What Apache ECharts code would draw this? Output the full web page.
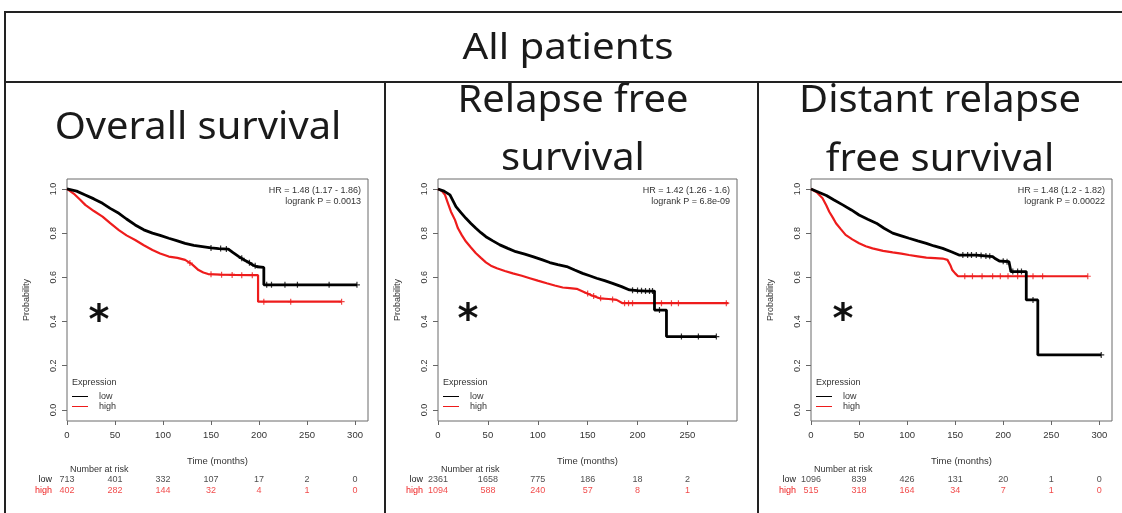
<!DOCTYPE html>
<html>
<head>
<meta charset="utf-8">
<script src="https://cdn.jsdelivr.net/npm/echarts@6/dist/echarts.min.js"></script>
<style>
  html, body { margin: 0; padding: 0; background: #fff; }
  #chart { width: 1122px; height: 513px; }
</style>
</head>
<body>
<div id="chart"></div>
<script>
// ---- Kaplan-Meier curves: [time (months), survival probability] ----
const osLow = [[0,1.0],[10,0.99],[19,0.973],[28,0.955],[37,0.935],[45,0.912],[54,0.89],[62,0.864],[71,0.837],[80,0.815],[89,0.80],[97,0.79],[106,0.777],[115,0.765],[123,0.754],[132,0.745],[141,0.739],[150,0.733],[158,0.73],[168,0.728],[173,0.712],[179,0.694],[184,0.68],[189,0.668],[194,0.655],[198,0.648],[205,0.645],[205,0.566],[302,0.566]];
const osHigh = [[0,1.0],[8,0.975],[14,0.95],[19,0.928],[28,0.9],[37,0.875],[45,0.845],[54,0.814],[62,0.79],[71,0.769],[80,0.745],[89,0.724],[97,0.708],[106,0.694],[115,0.688],[123,0.679],[130,0.66],[137,0.633],[142,0.622],[147,0.615],[160,0.612],[175,0.611],[192,0.61],[199,0.61],[199,0.49],[286,0.49]];
const osLowCensor = [[150,0.733],[160,0.73],[166,0.728],[182,0.686],[190,0.666],[196,0.652],[208,0.566],[213,0.566],[227,0.566],[240,0.566],[273,0.566],[302,0.566]];
const osHighCensor = [[128,0.665],[150,0.614],[161,0.612],[172,0.611],[182,0.61],[193,0.61],[205,0.49],[233,0.49],[286,0.49]];

const rfsLow = [[0,1.0],[6,0.99],[12,0.973],[18,0.92],[23,0.893],[28,0.867],[33,0.844],[38,0.822],[43,0.802],[48,0.784],[55,0.765],[62,0.747],[70,0.731],[78,0.716],[87,0.705],[95,0.694],[104,0.68],[112,0.667],[120,0.658],[129,0.649],[137,0.633],[145,0.618],[152,0.607],[159,0.596],[167,0.585],[175,0.573],[184,0.558],[192,0.543],[200,0.54],[209,0.538],[217,0.538],[217,0.452],[229,0.452],[229,0.332],[279,0.332]];
const rfsHigh = [[0,1.0],[4,0.99],[7,0.973],[10,0.935],[13,0.897],[17,0.86],[20,0.822],[24,0.79],[28,0.762],[33,0.735],[38,0.709],[43,0.688],[48,0.668],[53,0.653],[59,0.641],[67,0.629],[75,0.618],[84,0.607],[92,0.596],[100,0.585],[109,0.573],[117,0.563],[125,0.554],[132,0.551],[139,0.548],[144,0.538],[149,0.528],[155,0.517],[162,0.505],[171,0.502],[179,0.498],[185,0.483],[291,0.483]];
const rfsLowCensor = [[195,0.542],[200,0.54],[204,0.539],[208,0.538],[212,0.538],[215,0.538],[222,0.452],[244,0.332],[261,0.332],[279,0.332]];
const rfsHighCensor = [[150,0.527],[156,0.516],[163,0.505],[175,0.5],[187,0.483],[191,0.483],[195,0.483],[224,0.483],[234,0.483],[241,0.483],[289,0.483]];

const dmfsLow = [[0,1.0],[8,0.985],[16,0.97],[24,0.95],[33,0.928],[42,0.905],[50,0.882],[59,0.863],[68,0.845],[76,0.822],[85,0.80],[94,0.788],[102,0.777],[111,0.765],[120,0.754],[128,0.742],[137,0.731],[146,0.716],[154,0.701],[163,0.701],[172,0.701],[189,0.694],[192,0.684],[196,0.674],[206,0.671],[208,0.671],[208,0.626],[224,0.626],[224,0.498],[236,0.498],[236,0.249],[302,0.249]];
const dmfsHigh = [[0,1.0],[6,0.985],[12,0.958],[16,0.925],[19,0.897],[23,0.868],[26,0.845],[31,0.818],[36,0.792],[43,0.772],[50,0.754],[57,0.741],[64,0.731],[75,0.72],[85,0.713],[94,0.707],[102,0.701],[111,0.695],[120,0.689],[129,0.687],[137,0.685],[142,0.679],[145,0.655],[147,0.633],[150,0.618],[153,0.605],[288,0.605]];
const dmfsLowCensor = [[158,0.701],[163,0.701],[167,0.701],[172,0.701],[177,0.699],[182,0.697],[186,0.695],[200,0.673],[204,0.671],[210,0.626],[215,0.626],[219,0.626],[231,0.498],[302,0.249]];
const dmfsHighCensor = [[160,0.605],[168,0.605],[178,0.605],[189,0.605],[197,0.605],[205,0.605],[215,0.605],[231,0.605],[241,0.605],[288,0.605]];

// ---- Axis ticks ----
const timeTicks = [0, 50, 100, 150, 200, 250, 300];
const timeTicksRfs = [0, 50, 100, 150, 200, 250];
const probTicks = [0, 0.2, 0.4, 0.6, 0.8, 1.0];

// ---- Number at risk ----
const osRiskLow = [713, 401, 332, 107, 17, 2, 0];
const osRiskHigh = [402, 282, 144, 32, 4, 1, 0];
const rfsRiskLow = [2361, 1658, 775, 186, 18, 2];
const rfsRiskHigh = [1094, 588, 240, 57, 8, 1];
const dmfsRiskLow = [1096, 839, 426, 131, 20, 1, 0];
const dmfsRiskHigh = [515, 318, 164, 34, 7, 1, 0];

// ---- Text ----
const mainTitle = 'All patients';
const panelTitles = [['Overall survival'], ['Relapse free', 'survival'], ['Distant relapse', 'free survival']];
const hrText = [
  ['HR = 1.48 (1.17 - 1.86)', 'logrank P = 0.0013'],
  ['HR = 1.42 (1.26 - 1.6)', 'logrank P = 6.8e-09'],
  ['HR = 1.48 (1.2 - 1.82)', 'logrank P = 0.00022']
];

const RED = '#ee1c1c';
const BLACK = '#000000';
const TXT = '#333333';
const SMALL_FONT = 'Liberation Sans';

const panels = [
  { low: osLow, high: osHigh, lowC: osLowCensor, highC: osHighCensor, ticks: timeTicks,
    riskLow: osRiskLow, riskHigh: osRiskHigh, hr: hrText[0], title: panelTitles[0],
    left: 67, width: 301, xMax: 313.5, titleX: 198, titleY: [128], star: [99, 323] },
  { low: rfsLow, high: rfsHigh, lowC: rfsLowCensor, highC: rfsHighCensor, ticks: timeTicksRfs,
    riskLow: rfsRiskLow, riskHigh: rfsRiskHigh, hr: hrText[1], title: panelTitles[1],
    left: 438, width: 299, xMax: 299.7, titleX: 573, titleY: [101, 159], star: [468, 322] },
  { low: dmfsLow, high: dmfsHigh, lowC: dmfsLowCensor, highC: dmfsHighCensor, ticks: timeTicks,
    riskLow: dmfsRiskLow, riskHigh: dmfsRiskHigh, hr: hrText[2], title: panelTitles[2],
    left: 811, width: 301, xMax: 313.2, titleX: 940, titleY: [101, 160], star: [843, 322] }
];

const PLOT_TOP = 179, PLOT_H = 242, RISK_TOP = 474, RISK_H = 22;
const PLUS = 'path://M4,0H6V4H10V6H6V10H4V6H0V4H4Z';

const grid = [], xAxis = [], yAxis = [], series = [], legend = [], graphic = [];

panels.forEach((p, i) => {
  const gPlot = grid.length;
  grid.push({ left: p.left, top: PLOT_TOP, width: p.width, height: PLOT_H,
    show: true, borderColor: '#6a6a6a', borderWidth: 1, backgroundColor: 'transparent' });
  const gRisk = grid.length;
  grid.push({ left: p.left, top: RISK_TOP, width: p.width, height: RISK_H });

  xAxis.push({
    gridIndex: gPlot, type: 'value', min: 0, max: p.xMax, position: 'bottom',
    name: 'Time (months)', nameLocation: 'middle', nameGap: 35,
    nameTextStyle: { fontFamily: SMALL_FONT, fontSize: 9.5, color: TXT },
    axisLine: { show: false, onZero: false },
    axisTick: { show: true, length: 4, customValues: p.ticks, lineStyle: { color: '#666' } },
    axisLabel: { customValues: p.ticks, margin: 9, fontFamily: SMALL_FONT, fontSize: 9.5, color: TXT },
    splitLine: { show: false }
  });
  yAxis.push({
    gridIndex: gPlot, type: 'value', min: -0.05, max: 1.045,
    name: 'Probability', nameLocation: 'middle', nameGap: 36, nameRotate: 90,
    nameTextStyle: { fontFamily: SMALL_FONT, fontSize: 9, color: TXT },
    axisLine: { show: false, onZero: false },
    axisTick: { show: true, length: 5, customValues: probTicks, lineStyle: { color: '#666' } },
    axisLabel: { customValues: probTicks, rotate: 90, margin: 9, fontFamily: SMALL_FONT, fontSize: 9, color: TXT,
      formatter: v => v.toFixed(1) },
    splitLine: { show: false }
  });

  const xPlot = xAxis.length - 1, yPlot = yAxis.length - 1;

  xAxis.push({ gridIndex: gRisk, type: 'value', min: 0, max: p.xMax, show: false });
  yAxis.push({
    gridIndex: gRisk, type: 'category', data: ['high', 'low'],
    axisLine: { show: false }, axisTick: { show: false },
    axisLabel: { interval: 0, margin: 15, fontFamily: SMALL_FONT, fontSize: 9,
      color: (v) => v === 'high' ? RED : '#222' }
  });
  const xRisk = xAxis.length - 1, yRisk = yAxis.length - 1;

  series.push({ name: 'low', type: 'line', xAxisIndex: xPlot, yAxisIndex: yPlot, data: p.low,
    showSymbol: false, color: BLACK, itemStyle: { color: BLACK }, lineStyle: { width: 2.8, color: BLACK }, z: 3 });
  series.push({ name: 'high', type: 'line', xAxisIndex: xPlot, yAxisIndex: yPlot, data: p.high,
    showSymbol: false, color: RED, itemStyle: { color: RED }, lineStyle: { width: 2.2, color: RED }, z: 2 });
  series.push({ name: 'low censored', type: 'scatter', xAxisIndex: xPlot, yAxisIndex: yPlot, data: p.lowC,
    symbol: PLUS, symbolSize: 6, itemStyle: { color: BLACK }, z: 4 });
  series.push({ name: 'high censored', type: 'scatter', xAxisIndex: xPlot, yAxisIndex: yPlot, data: p.highC,
    symbol: PLUS, symbolSize: 6, itemStyle: { color: RED }, z: 4 });

  const riskLabel = (color) => ({ show: true, position: 'inside', formatter: q => String(q.value[2]),
    fontFamily: SMALL_FONT, fontSize: 9, color });
  series.push({ name: 'risk low', type: 'scatter', xAxisIndex: xRisk, yAxisIndex: yRisk,
    data: p.ticks.map((t, k) => [t, 'low', p.riskLow[k]]),
    symbolSize: 1, itemStyle: { color: 'rgba(0,0,0,0)' }, label: riskLabel('#222') });
  series.push({ name: 'risk high', type: 'scatter', xAxisIndex: xRisk, yAxisIndex: yRisk,
    data: p.ticks.map((t, k) => [t, 'high', p.riskHigh[k]]),
    symbolSize: 1, itemStyle: { color: 'rgba(0,0,0,0)' }, label: riskLabel(RED) });

  legend.push({
    data: [
      { name: 'low', itemStyle: { color: BLACK }, lineStyle: { color: BLACK } },
      { name: 'high', itemStyle: { color: RED }, lineStyle: { color: RED } }
    ],
    orient: 'vertical', left: p.left + 5, top: 392, padding: 0,
    itemWidth: 16, itemHeight: 1, itemGap: 1, icon: 'rect', selectedMode: false,
    textStyle: { fontFamily: SMALL_FONT, fontSize: 9, color: TXT, padding: [0, 0, 0, 6] }
  });

  graphic.push({ type: 'text', left: p.left + 5, top: 378,
    style: { text: 'Expression', fontFamily: SMALL_FONT, fontSize: 9, fill: TXT } });
  graphic.push({ type: 'text', x: p.left + 3, y: 470,
    style: { text: 'Number at risk', fontFamily: SMALL_FONT, fontSize: 9, fill: TXT,
      textAlign: 'left', textVerticalAlign: 'middle' } });
  p.hr.forEach((line, k) => {
    graphic.push({ type: 'text', x: p.left + p.width - 7, y: 191 + k * 11,
      style: { text: line, fontFamily: SMALL_FONT, fontSize: 9, fill: TXT,
        textAlign: 'right', textVerticalAlign: 'middle' } });
  });
  graphic.push({ type: 'text', x: p.star[0], y: p.star[1],
    style: { text: '*', fontFamily: 'DejaVu Sans', fontWeight: 'bold', fontSize: 40, fill: '#111',
      textAlign: 'center', textVerticalAlign: 'middle' } });
  p.title.forEach((line, k) => {
    graphic.push({ type: 'text', x: p.titleX, y: p.titleY[k], scaleX: 1.05,
      style: { text: line, fontFamily: 'Noto Sans', fontSize: 38, fill: '#1a1a1a',
        textAlign: 'center', textVerticalAlign: 'middle' } });
  });
});

// Table frame and headline
graphic.push(
  { type: 'text', x: 568, y: 49, scaleX: 1.12,
    style: { text: mainTitle, fontFamily: 'Noto Sans', fontSize: 36, fill: '#1a1a1a',
      textAlign: 'center', textVerticalAlign: 'middle' } },
  { type: 'line', shape: { x1: 4, y1: 12, x2: 1122, y2: 12 }, style: { stroke: '#222', lineWidth: 2 } },
  { type: 'line', shape: { x1: 5, y1: 11, x2: 5, y2: 513 }, style: { stroke: '#222', lineWidth: 2 } },
  { type: 'line', shape: { x1: 4, y1: 82, x2: 1122, y2: 82 }, style: { stroke: '#222', lineWidth: 2 } },
  { type: 'line', shape: { x1: 385, y1: 82, x2: 385, y2: 513 }, style: { stroke: '#222', lineWidth: 2 } },
  { type: 'line', shape: { x1: 758, y1: 82, x2: 758, y2: 513 }, style: { stroke: '#222', lineWidth: 2 } }
);

const chart = echarts.init(document.getElementById('chart'), null, { renderer: 'canvas' });
chart.setOption({
  animation: false,
  backgroundColor: '#ffffff',
  grid, xAxis, yAxis, series, legend, graphic
});
</script>
</body>
</html>
